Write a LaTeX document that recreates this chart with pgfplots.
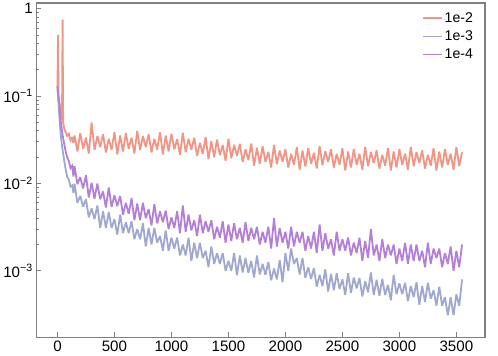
\documentclass[border=0pt]{standalone}
\usepackage{pgfplots}
\usepackage{pgfplotstable}
\pgfplotsset{compat=1.18}
\usepackage{fontspec}
\setmainfont{Liberation Sans}
\definecolor{csalmon}{RGB}{240,150,135}
\definecolor{clav}{RGB}{160,168,208}
\definecolor{cpurp}{RGB}{180,128,214}
% x, loss for lr 1e-2 (s), 1e-3 (b), 1e-4 (p)
\pgfplotstableread{
x s b p
0 0.12 0.12 0.13
5 0.5 0.10 0.115
10 0.09 0.08 0.10
20 0.08 0.05 0.07
30 0.065 0.035 0.05
40 0.055 0.027 0.04
45 0.75 0.024 0.036
50 0.05 0.022 0.033
60 0.042 0.018 0.028
70 0.039 0.015 0.024
85 0.035 0.012 0.020
100 0.037 0.011 0.018
115 0.031 0.0092 0.015
130 0.034 0.0095 0.016
140 0.029 0.0078 0.012
150 0.0354 0.0099 0.0158
175 0.0232 0.0060 0.0098
200 0.0377 0.0072 0.0118
225 0.0249 0.0054 0.0088
250 0.0334 0.0066 0.0124
275 0.0220 0.0041 0.0069
300 0.0500 0.0052 0.0102
325 0.0241 0.0039 0.0067
350 0.0348 0.0056 0.0100
375 0.0261 0.0031 0.0066
400 0.0365 0.0048 0.0081
425 0.0226 0.0031 0.0053
450 0.0325 0.0047 0.0090
475 0.0244 0.0031 0.0054
500 0.0386 0.0039 0.0073
525 0.0215 0.0026 0.0055
550 0.0354 0.0044 0.0072
575 0.0232 0.0027 0.0044
600 0.0377 0.0036 0.0060
625 0.0249 0.0027 0.0045
650 0.0334 0.0037 0.0068
675 0.0220 0.0023 0.0038
700 0.0400 0.0030 0.0059
725 0.0241 0.0023 0.0038
750 0.0348 0.0035 0.0060
775 0.0261 0.0019 0.0040
800 0.0365 0.0031 0.0051
825 0.0226 0.0020 0.0033
850 0.0325 0.0031 0.0058
875 0.0244 0.0021 0.0035
900 0.0386 0.0025 0.0048
925 0.0215 0.0017 0.0036
950 0.0354 0.0029 0.0049
975 0.0232 0.0017 0.0030
1000 0.0371 0.0024 0.0041
1025 0.0245 0.0018 0.0031
1050 0.0322 0.0024 0.0048
1075 0.0213 0.0015 0.0027
1100 0.0380 0.0020 0.0056
1125 0.0228 0.0015 0.0028
1150 0.0324 0.0024 0.0044
1175 0.0243 0.0013 0.0029
1200 0.0334 0.0021 0.0038
1225 0.0207 0.0014 0.0025
1250 0.0291 0.0021 0.0044
1275 0.0218 0.0014 0.0027
1300 0.0339 0.0017 0.0037
1325 0.0189 0.0011 0.0028
1350 0.0305 0.0019 0.0038
1375 0.0200 0.0012 0.0023
1400 0.0319 0.0016 0.0032
1425 0.0211 0.0012 0.0024
1450 0.0276 0.0016 0.0037
1475 0.0182 0.0010 0.0021
1500 0.0324 0.0013 0.0034
1525 0.0195 0.0010 0.0022
1550 0.0276 0.0016 0.0035
1575 0.0207 0.00089 0.0023
1600 0.0284 0.0015 0.0031
1625 0.0176 0.00096 0.0021
1650 0.0246 0.0014 0.0036
1675 0.0185 0.00095 0.0022
1700 0.0286 0.0013 0.0031
1725 0.0159 0.00084 0.0023
1750 0.0256 0.0015 0.0032
1775 0.0168 0.00091 0.0020
1800 0.0267 0.0012 0.0028
1825 0.0176 0.0009 0.0021
1850 0.0230 0.00126 0.0032
1875 0.0152 0.00078 0.0018
1900 0.0276 0.00106 0.0040
1925 0.0166 0.0008 0.0019
1950 0.0238 0.00133 0.0031
1975 0.0178 0.00074 0.0021
2000 0.0246 0.0016 0.0028
2025 0.0152 0.0010 0.0018
2050 0.0218 0.0018 0.0032
2075 0.0164 0.0012 0.0019
2100 0.0259 0.0014 0.0028
2125 0.0144 0.00091 0.0021
2150 0.0238 0.0014 0.0028
2175 0.0156 0.00083 0.0017
2200 0.0254 0.0011 0.0025
2225 0.0168 0.00081 0.0018
2250 0.0224 0.00107 0.0028
2275 0.0148 0.00066 0.0016
2300 0.0269 0.0009 0.0034
2325 0.0162 0.00067 0.0017
2350 0.0234 0.00104 0.0027
2375 0.0176 0.00058 0.0018
2400 0.0246 0.00092 0.0023
2425 0.0152 0.0006 0.0015
2450 0.0218 0.00094 0.0028
2475 0.0164 0.00062 0.0017
2500 0.0253 0.0008 0.0023
2525 0.0141 0.00053 0.0017
2550 0.0232 0.00094 0.0024
2575 0.0152 0.00056 0.0015
2600 0.0247 0.00084 0.0021
2625 0.0163 0.00063 0.0016
2650 0.0219 0.00083 0.0024
2675 0.0144 0.00051 0.0013
2700 0.0262 0.00076 0.0022
2725 0.0158 0.00057 0.0014
2750 0.0228 0.00096 0.0030
2775 0.0171 0.00053 0.0015
2800 0.0239 0.00079 0.0020
2825 0.0148 0.00052 0.0013
2850 0.0213 0.00081 0.0023
2875 0.0160 0.00053 0.0014
2900 0.0253 0.00069 0.0020
2925 0.0141 0.00046 0.0015
2950 0.0232 0.0009 0.0020
2975 0.0152 0.00054 0.0012
3000 0.0247 0.00072 0.0018
3025 0.0163 0.00054 0.0013
3050 0.0219 0.00073 0.0021
3075 0.0144 0.00045 0.0012
3100 0.0262 0.00067 0.0020
3125 0.0158 0.0005 0.0013
3150 0.0228 0.00074 0.0020
3175 0.0171 0.00041 0.0013
3200 0.0239 0.00067 0.0017
3225 0.0148 0.00044 0.0011
3250 0.0213 0.00073 0.0021
3275 0.0160 0.00048 0.0012
3300 0.0253 0.0006 0.0018
3325 0.0141 0.0004 0.0014
3350 0.0232 0.00066 0.0018
3375 0.0152 0.0004 0.0011
3400 0.0247 0.0005 0.0016
3425 0.0163 0.00031 0.0012
3450 0.0219 0.0005 0.0019
3475 0.0144 0.00031 0.0010
3500 0.0262 0.00054 0.0017
3525 0.0158 0.0004 0.0011
3550 0.0228 0.0008 0.0020
}\losstable
\begin{document}
\begin{tikzpicture}
\begin{axis}[
    scale only axis,
    width=444bp, height=331bp,
    ymode=log,
    xmin=-186, xmax=3750,
    ymin=1.73e-4, ymax=1.16,
    xtick={0,500,1000,1500,2000,2500,3000,3500},
    ytick={1e-3,1e-2,1e-1,1},
    yticklabels={10\textsuperscript{−3},10\textsuperscript{−2},10\textsuperscript{−1},1},
    tick pos=left,
    tick align=inside,
    major tick length=5bp,
    minor tick length=3bp,
    axis line style={draw=gray, line width=1.3bp},
    every tick/.style={gray, line width=0.8bp},
    tick label style={font=\fontsize{15}{15}\selectfont},
    /pgf/number format/assume math mode=true,
    /pgf/number format/set thousands separator={},
    scaled x ticks=false,
    legend style={draw=none, fill=none, at={(0.985,0.985)}, anchor=north east,
        font=\fontsize{14}{14}\selectfont, row sep=3bp},
    legend cell align=left,
    legend image code/.code={\draw[#1] (0bp,0bp) -- (19bp,0bp);},
]
\addplot[csalmon, line width=1.8bp, line join=miter, miter limit=3, forget plot] table[x=x, y=s] {\losstable};
\addplot[clav, line width=1.8bp, line join=miter, miter limit=3, forget plot] table[x=x, y=b] {\losstable};
\addplot[cpurp, line width=1.8bp, line join=miter, miter limit=3, forget plot] table[x=x, y=p] {\losstable};
\addlegendimage{draw=csalmon, line width=1.4bp}
\addlegendentry{1e-2}
\addlegendimage{draw=clav, line width=1.4bp}
\addlegendentry{1e-3}
\addlegendimage{draw=cpurp, line width=1.4bp}
\addlegendentry{1e-4}
\end{axis}
\path ([xshift=13bp]current axis.east);
\path ([yshift=3bp]current axis.north);
\end{tikzpicture}
\end{document}
